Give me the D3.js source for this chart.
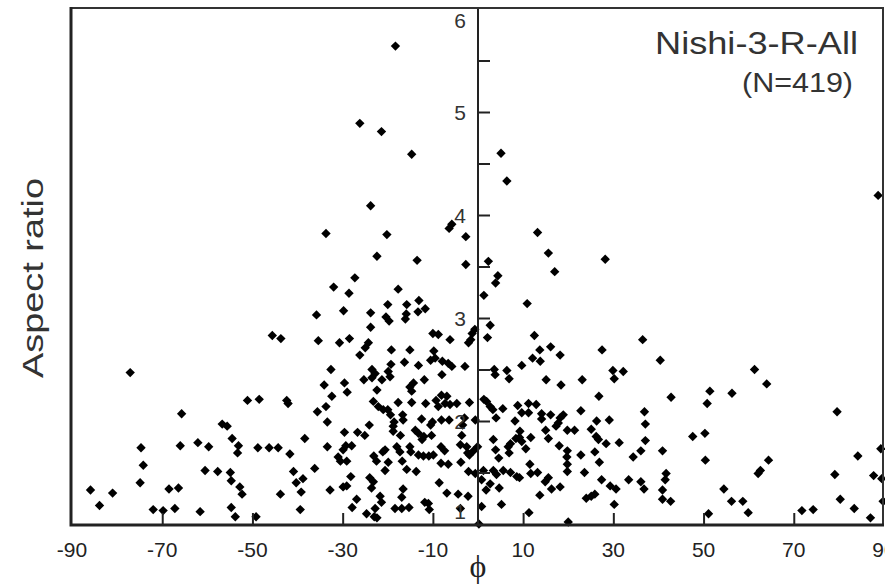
<!DOCTYPE html>
<html>
<head>
<meta charset="utf-8">
<script src="https://cdn.jsdelivr.net/npm/d3@7"></script>
<style>
  body { margin: 0; background: #fff; }
  text { font-family: "Liberation Sans", Arial, sans-serif; fill: #222; }
</style>
</head>
<body>
<div id="chart"></div>
<script>
// phi (deg) / aspect ratio pairs
const leftPoints = [
  [-45.6,2.83],[-77.1,2.47],[-51.1,2.20],[-48.5,2.21],[-65.7,2.07],[-56.7,1.97],[-55.6,1.95],[-54.5,1.83],
  [-74.7,1.74],[-66.0,1.76],[-62.1,1.79],[-59.7,1.75],[-53.1,1.76],[-53.3,1.69],[-48.8,1.74],[-46.3,1.74],
  [-74.2,1.57],[-60.5,1.52],[-57.7,1.51],[-54.9,1.50],[-54.7,1.42],[-74.9,1.40],[-85.9,1.33],[-81.0,1.30],
  [-68.5,1.34],[-66.4,1.35],[-52.8,1.36],[-52.3,1.29],[-83.9,1.18],[-72.0,1.14],[-69.8,1.13],[-67.2,1.15],
  [-61.6,1.12],[-54.7,1.16],[-53.8,1.07],[-49.2,1.07],
  [-27.3,3.39],[-32.0,3.30],[-28.6,3.24],[-17.7,3.28],[-13.1,3.17],[-20.0,3.13],[-15.8,3.13],[-11.7,3.09],
  [-13.3,3.06],[-35.8,3.03],[-29.8,3.07],[-23.8,3.05],[-15.9,3.04],[-20.4,3.01],[-19.7,2.97],[-16.1,2.99],
  [-43.7,2.80],[-35.4,2.78],[-30.7,2.76],[-28.5,2.80],[-23.8,2.91],[-10.0,2.85],[-8.8,2.84],[-6.2,2.79],
  [-0.7,2.89],[-1.3,2.85],[-1.6,2.79],[-2.1,2.76],[-24.3,2.76],[-25.0,2.71],[-26.2,2.64],[-19.2,2.69],
  [-15.1,2.69],[-9.8,2.68],[-16.3,2.57],[-13.2,2.54],[-10.5,2.59],[-9.5,2.61],[-7.9,2.58],[-6.6,2.56],
  [-5.8,2.53],[-2.9,2.53],[-19.3,2.55],[-32.6,2.50],[-23.5,2.50],[-22.8,2.46],[-25.3,2.40],[-23.5,2.42],
  [-21.3,2.40],[-19.5,2.43],[-19.9,2.48],[-8.0,2.45],[-11.9,2.40],[-14.3,2.37],[-34.1,2.35],[-29.6,2.37],
  [-15.1,2.33],[-29.0,2.28],[-32.4,2.24],[-22.4,2.30],[-14.7,2.29],[-42.4,2.20],[-42.1,2.17],[-23.2,2.19],
  [-22.1,2.14],[-17.7,2.18],[-14.7,2.18],[-11.6,2.17],[-9.3,2.20],[-8.1,2.25],[-6.9,2.24],[-7.3,2.17],
  [-6.2,2.16],[-4.7,2.17],[-1.9,2.18],[-8.8,2.14],[-35.6,2.09],[-33.7,2.14],[-21.0,2.11],[-20.0,2.11],
  [-19.4,2.06],[-16.7,2.06],[-16.6,2.01],[-18.6,1.99],[-12.5,2.02],[-10.1,1.99],[-10.5,1.96],[-8.1,2.01],
  [-6.4,2.01],[-3.4,1.96],[-3.0,2.03],[-0.6,2.01],[-33.4,1.99],[-24.1,1.96],[-18.8,1.95],[-18.8,1.90],
  [-13.9,1.91],[-13.2,1.88],[-12.0,1.85],[-12.4,1.82],[-17.2,1.86],[-29.6,1.89],[-26.7,1.89],[-25.1,1.86],
  [-38.4,1.83],[-10.3,1.86],[-3.6,1.86],[-44.3,1.74],[-41.7,1.68],[-33.4,1.75],[-29.3,1.76],[-29.9,1.72],
  [-28.0,1.76],[-21.1,1.70],[-20.6,1.72],[-18.0,1.75],[-17.3,1.70],[-15.1,1.75],[-14.9,1.70],[-13.2,1.67],
  [-12.1,1.66],[-10.9,1.66],[-9.9,1.67],[-8.2,1.75],[-7.4,1.71],[-3.9,1.77],[-2.5,1.75],[-2.3,1.69],
  [-1.9,1.67],[-1.0,1.71],[-0.1,1.75],[-23.1,1.66],[-31.0,1.65],[-30.5,1.61],[-29.1,1.61],[-22.5,1.61],
  [-19.9,1.60],[-16.8,1.61],[-15.8,1.53],[-13.7,1.51],[-20.6,1.52],[-40.9,1.51],[-36.2,1.54],[-8.2,1.59],
  [-6.6,1.58],[-3.8,1.60],[-2.1,1.51],[-0.6,1.49],[-40.3,1.40],[-38.8,1.44],[-39.2,1.31],[-43.8,1.29],
  [-32.8,1.33],[-29.9,1.36],[-29.1,1.37],[-28.2,1.46],[-24.0,1.45],[-23.2,1.41],[-23.6,1.35],[-16.6,1.34],
  [-8.6,1.40],[-6.9,1.30],[-4.4,1.29],[-2.2,1.27],[-21.7,1.27],[-26.9,1.24],[-27.9,1.16],[-22.8,1.15],
  [-21.4,1.21],[-16.9,1.26],[-18.4,1.15],[-16.9,1.15],[-15.3,1.16],[-11.8,1.21],[-11.0,1.20],[-10.8,1.14],
  [-3.9,1.15],[-39.4,1.14],[-24.7,1.10],[-23.0,1.07],[-22.4,1.06],
  [-18.3,5.64],[-26.2,4.89],[-21.4,4.81],[-14.7,4.59],[-23.8,4.09],[-33.7,3.82],[-20.2,3.81],[-6.4,3.87],
  [-5.8,3.91],[-2.7,3.79],[-22.4,3.60],[-13.5,3.56],[-2.7,3.52]
];

const rightPoints = [
  [4.4,3.41],[3.9,3.34],[1.3,3.22],[17.0,3.45],[10.9,3.14],[2.7,2.93],[2.1,2.81],[12.5,2.83],
  [16.1,2.72],[13.7,2.69],[12.1,2.61],[13.8,2.58],[18.2,2.64],[9.7,2.54],[27.5,2.69],[36.5,2.79],
  [40.4,2.59],[3.6,2.50],[3.8,2.45],[6.4,2.49],[6.9,2.41],[15.1,2.40],[18.4,2.35],[23.1,2.40],
  [29.9,2.49],[32.2,2.48],[30.2,2.41],[42.8,2.23],[26.8,2.24],[1.3,2.21],[1.9,2.19],[2.7,2.14],
  [3.3,2.11],[5.5,2.12],[8.8,2.15],[11.2,2.17],[12.9,2.16],[9.7,2.08],[11.2,2.08],[14.1,2.07],
  [16.1,2.06],[18.9,2.06],[18.2,2.03],[8.2,2.00],[14.1,2.02],[22.8,2.10],[26.3,2.00],[29.1,2.01],
  [36.9,2.09],[37.1,1.97],[17.8,1.98],[17.3,1.95],[4.0,2.03],[19.8,1.91],[21.4,1.91],[25.1,1.92],
  [9.3,1.90],[9.2,1.84],[8.4,1.83],[9.7,1.80],[11.7,1.84],[15.0,1.91],[15.6,1.83],[26.2,1.85],
  [26.7,1.82],[28.4,1.78],[31.3,1.79],[3.4,1.82],[7.2,1.78],[6.7,1.75],[3.9,1.72],[6.9,1.69],
  [4.6,1.64],[10.6,1.73],[18.0,1.76],[19.8,1.71],[19.7,1.65],[19.8,1.58],[19.8,1.51],[22.8,1.67],
  [25.9,1.70],[26.9,1.60],[34.4,1.65],[36.1,1.71],[37.1,1.81],[40.9,1.71],[11.5,1.58],[5.6,1.52],
  [7.2,1.50],[3.4,1.52],[4.1,1.48],[8.6,1.46],[9.2,1.45],[11.7,1.49],[13.2,1.50],[14.9,1.41],
  [15.6,1.45],[16.3,1.34],[18.2,1.36],[23.6,1.50],[27.4,1.43],[33.4,1.43],[36.1,1.41],[36.8,1.34],
  [29.3,1.37],[30.6,1.34],[41.7,1.49],[41.5,1.43],[40.9,1.33],[40.9,1.24],[42.7,1.22],[24.0,1.25],
  [25.1,1.27],[25.9,1.29],[13.7,1.28],[5.2,1.19],[0.8,1.17],[1.8,1.33],[2.7,1.39],[0.8,1.43],
  [1.2,1.52],[4.7,1.35],[30.2,1.19],[11.3,1.11],[20.0,1.02],[0.2,1.0],
  [61.3,2.50],[64.0,2.36],[51.4,2.29],[56.3,2.27],[50.8,2.17],[79.6,2.09],[47.6,1.85],[50.3,1.88],
  [50.4,1.62],[64.4,1.62],[62.6,1.52],[62.1,1.49],[84.2,1.66],[89.3,1.73],[79.1,1.48],[87.7,1.47],
  [89.5,1.44],[54.5,1.34],[56.2,1.22],[58.7,1.22],[59.9,1.11],[51.1,1.10],[80.3,1.24],[71.8,1.13],
  [74.3,1.14],[83.4,1.15],[87.0,1.06],[89.8,1.22],[88.7,4.19],
  [5.1,4.60],[6.4,4.33],[13.2,3.83],[15.6,3.63],[2.3,3.55],[28.2,3.57]
];

const xTickMarks = [-70, -50, -30, -10, 10, 30, 50, 70];
const xTickLabels = [-90, -70, -50, -30, -10, 10, 30, 50, 70, 90];
const yTickMarks = [1.5, 2, 2.5, 3, 3.5, 4, 4.5, 5, 5.5];
const yTickLabels = [1, 2, 3, 4, 5, 6];

const width = 885, height = 587;

const svg = d3.select("#chart")
  .append("svg")
  .attr("width", width)
  .attr("height", height);

const x = d3.scaleLinear().domain([-90, 90]).range([72, 884]);
const y = d3.scaleLinear().domain([1, 6]).range([524, 9]);

// points
const diamond = d3.symbol().type(d3.symbolSquare).size(44);
svg.append("g")
  .selectAll("path")
  .data(leftPoints.concat(rightPoints))
  .join("path")
  .attr("d", diamond)
  .attr("transform", d => `translate(${x(d[0])},${y(d[1])}) rotate(45)`)
  .attr("fill", "#000");

// frame: top + right thin, left + bottom heavy
svg.append("path")
  .attr("d", `M${x(-90) - 1},${y(6) - 1}H${x(90) - 1}V${y(1)}`)
  .attr("fill", "none")
  .attr("stroke", "#333")
  .attr("stroke-width", 2);

svg.append("path")
  .attr("d", `M${x(-90) - 1},${y(6) - 2}V${y(1) + 1}H${x(90)}`)
  .attr("fill", "none")
  .attr("stroke", "#222")
  .attr("stroke-width", 3);

// bottom ticks
svg.append("g")
  .attr("transform", `translate(0,${y(1)})`)
  .call(d3.axisBottom(x).tickValues(xTickMarks).tickSize(-11).tickFormat(""))
  .call(g => g.select(".domain").remove())
  .call(g => g.selectAll("line").attr("stroke", "#222").attr("stroke-width", 2));

svg.append("g")
  .selectAll("text")
  .data(xTickLabels)
  .join("text")
  .attr("x", d => x(d))
  .attr("y", 557)
  .attr("text-anchor", "middle")
  .style("font-size", "21px")
  .text(d => d);

// centre vertical axis at phi = 0
svg.append("g")
  .attr("transform", `translate(${x(0)},0)`)
  .call(d3.axisRight(y).tickValues(yTickMarks).tickSize(12).tickFormat(""))
  .call(g => g.select(".domain").attr("d", `M0,${y(6)}V${y(1)}`)
    .attr("stroke", "#222").attr("stroke-width", 2))
  .call(g => g.selectAll("line").attr("stroke", "#222").attr("stroke-width", 2));

svg.append("g")
  .selectAll("text")
  .data(yTickLabels)
  .join("text")
  .attr("x", x(0) - 12)
  .attr("y", d => Math.max(20, Math.min(511, y(d))))
  .attr("text-anchor", "end")
  .attr("dominant-baseline", "central")
  .style("font-size", "21px")
  .style("fill", "#333")
  .text(d => d);

// axis titles
svg.append("text")
  .attr("transform", "translate(43,278) rotate(-90)")
  .attr("text-anchor", "middle")
  .attr("textLength", 200)
  .attr("lengthAdjust", "spacingAndGlyphs")
  .style("font-size", "30px")
  .style("fill", "#333")
  .text("Aspect ratio");

svg.append("text")
  .attr("x", x(0))
  .attr("y", 577)
  .attr("text-anchor", "middle")
  .style("font-family", "'Liberation Serif', serif")
  .style("font-size", "32px")
  .text("ϕ");

// sample label
svg.append("text")
  .attr("x", 655)
  .attr("y", 54)
  .attr("textLength", 203)
  .attr("lengthAdjust", "spacingAndGlyphs")
  .style("font-size", "31px")
  .style("fill", "#333")
  .text("Nishi-3-R-All");

svg.append("text")
  .attr("x", 742)
  .attr("y", 92)
  .attr("textLength", 111)
  .attr("lengthAdjust", "spacingAndGlyphs")
  .style("font-size", "27px")
  .style("fill", "#333")
  .text("(N=419)");
</script>
</body>
</html>
